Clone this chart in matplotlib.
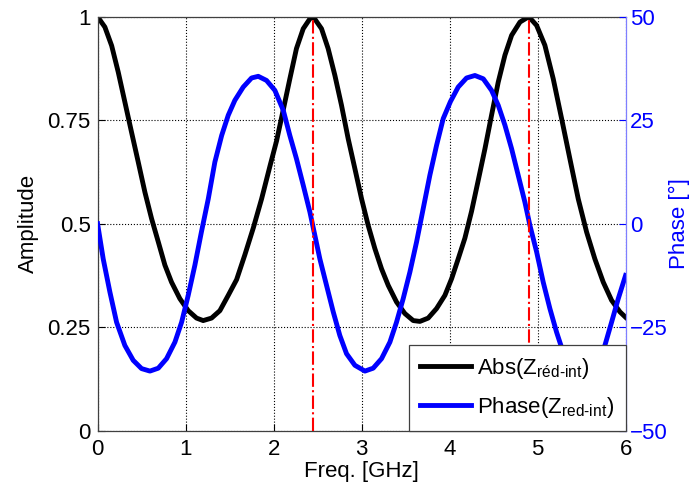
import matplotlib
matplotlib.use("Agg")
import matplotlib.pyplot as plt

plt.rcParams["font.family"] = ["Liberation Sans", "DejaVu Sans"]
plt.rcParams["mathtext.fontset"] = "custom"
plt.rcParams["mathtext.rm"] = "Liberation Sans"
plt.rcParams["mathtext.it"] = "Liberation Sans"

# |Z|
f_abs = [0.0, 0.083, 0.16, 0.235, 0.31, 0.386, 0.462, 0.538, 0.614, 0.69, 0.765, 0.84,
         0.935, 1.03, 1.125, 1.2, 1.295, 1.39, 1.485, 1.58, 1.674, 1.77, 1.864, 1.96,
         2.034, 2.11, 2.185, 2.26, 2.337, 2.413, 2.45, 2.545, 2.62, 2.697, 2.772, 2.848,
         2.924, 3.0, 3.075, 3.151, 3.227, 3.303, 3.397, 3.492, 3.587, 3.663, 3.757,
         3.852, 3.947, 4.023, 4.098, 4.174, 4.25, 4.326, 4.402, 4.477, 4.553, 4.629,
         4.705, 4.8, 4.9, 4.989, 5.083, 5.178, 5.273, 5.367, 5.462, 5.557, 5.651,
         5.746, 5.841, 5.936, 6.0]
amp = [1.0, 0.975, 0.93, 0.866, 0.794, 0.721, 0.649, 0.576, 0.512, 0.456, 0.40, 0.359,
       0.319, 0.29, 0.272, 0.266, 0.272, 0.29, 0.327, 0.365, 0.425, 0.49, 0.56, 0.64,
       0.70, 0.775, 0.85, 0.923, 0.971, 0.995, 1.0, 0.971, 0.923, 0.858, 0.786, 0.705,
       0.633, 0.56, 0.496, 0.44, 0.391, 0.351, 0.311, 0.283, 0.266, 0.264, 0.272,
       0.295, 0.327, 0.367, 0.415, 0.465, 0.53, 0.605, 0.681, 0.762, 0.842, 0.907,
       0.955, 0.987, 1.0, 0.979, 0.931, 0.85, 0.754, 0.657, 0.56, 0.48, 0.415,
       0.359, 0.315, 0.287, 0.274]

# phase in degrees
f_ph = [0.0, 0.064, 0.14, 0.216, 0.31, 0.405, 0.5, 0.595, 0.69, 0.784, 0.879, 0.955,
        1.03, 1.106, 1.18, 1.258, 1.333, 1.41, 1.485, 1.56, 1.655, 1.75, 1.826, 1.92,
        2.015, 2.11, 2.185, 2.26, 2.337, 2.413, 2.526, 2.602, 2.678, 2.753, 2.829,
        2.924, 3.038, 3.132, 3.227, 3.322, 3.397, 3.473, 3.549, 3.625, 3.7, 3.776,
        3.852, 3.928, 4.01, 4.098, 4.193, 4.288, 4.383, 4.477, 4.553, 4.629, 4.705,
        4.78, 4.856, 4.913, 4.989, 5.064, 5.14, 5.216, 5.29, 5.37, 5.5, 5.63, 5.7,
        5.765, 5.841, 5.917, 6.0]
phase = [0.0, -8.5, -16.5, -23.8, -29.4, -33.0, -35.0, -35.6, -34.9, -32.6, -28.6, -23.8,
         -17.3, -10.0, -2.0, 6.0, 14.9, 21.3, 26.2, 29.8, 33.0, 35.2, 35.6, 34.6,
         32.2, 27.4, 21.3, 15.7, 9.3, 2.8, -8.5, -14.9, -21.3, -27.0, -31.4,
         -34.2, -35.6, -34.9, -32.6, -28.6, -23.8, -18.1, -11.7, -4.4, 3.6, 11.7,
         18.9, 25.4, 29.5, 33.0, 35.2, 35.8, 35.0, 32.2, 28.6, 23.8, 18.1,
         11.7, 5.2, -0.4, -6.8, -14.1, -20.5, -26.2, -31.0, -34.2, -35.6, -34.0, -32.0,
         -29.4, -23.8, -18.1, -12.5]

f_marks = [2.45, 4.9]

fig = plt.figure(figsize=(6.92, 4.91), dpi=100)
ax = fig.add_axes([0.141, 0.1228, 0.763, 0.8432])
ax2 = ax.twinx()

l1, = ax.plot(f_abs, amp, color="black", lw=3.5, label=r"Abs(Z$_{\text{réd-int}}$)")
l2, = ax2.plot(f_ph, phase, color="blue", lw=3.5, label=r"Phase(Z$_{\text{red-int}}$)")
for fm in f_marks:
    ax2.axvline(fm, color="red", ls="-.", lw=1.5)

ax.set_xlim(0, 6)
ax.set_ylim(0, 1)
ax2.set_ylim(-50, 50)
ax.set_xticks([0, 1, 2, 3, 4, 5, 6])
ax.set_yticks([0, 0.25, 0.5, 0.75, 1])
ax.set_yticklabels(["0", "0.25", "0.5", "0.75", "1"])
ax2.set_yticks([-50, -25, 0, 25, 50])
ax.grid(True, color="black", ls=":", lw=0.8)

ax.tick_params(direction="in", length=5, labelsize=16, colors="black")
ax.tick_params(axis="x", pad=6)
ax.tick_params(axis="y", right=False, pad=5)
ax2.tick_params(direction="in", length=5, labelsize=16, colors="blue", pad=3)

for s in ["left", "bottom", "top"]:
    ax.spines[s].set_color("#404040")
    ax.spines[s].set_linewidth(0.9)
    ax2.spines[s].set_visible(False)
ax.spines["right"].set_visible(False)
ax2.spines["right"].set_color("#7f7fff")
ax2.spines["right"].set_linewidth(0.9)

ax.set_xlabel("Freq. [GHz]", fontsize=16, labelpad=1)
ax.set_ylabel("Amplitude", fontsize=16, labelpad=6)
ax2.set_ylabel("Phase [°]", fontsize=16, color="blue", labelpad=1)

leg = ax2.legend([l1, l2], [l1.get_label(), l2.get_label()], loc="lower right",
                 fontsize=16, borderaxespad=0, fancybox=False, framealpha=1,
                 edgecolor="#404040", handlelength=2.3, handletextpad=0.3,
                 borderpad=0.5, labelspacing=0.6)
leg.get_frame().set_linewidth(0.9)

fig.savefig("out.png", dpi=100)
